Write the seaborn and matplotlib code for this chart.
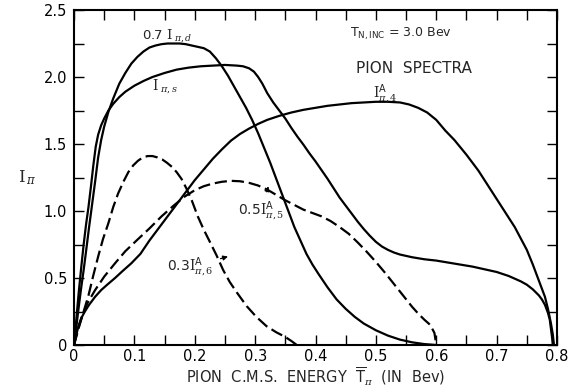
import numpy as np
import pandas as pd
import matplotlib
matplotlib.use("Agg")
import matplotlib.pyplot as plt
import seaborn as sns

# ---- data ----
# 0.7 I_pi,d
d_x = [0, 0.004, 0.008, 0.012, 0.016, 0.02, 0.025, 0.03, 0.035, 0.04, 0.045, 0.05, 0.057, 0.065, 0.075,
       0.085, 0.095, 0.105, 0.115, 0.125, 0.135, 0.145, 0.155, 0.165, 0.175, 0.185, 0.195, 0.205, 0.215,
       0.225, 0.235, 0.245, 0.255, 0.265, 0.275, 0.285, 0.295, 0.305, 0.315, 0.325, 0.335, 0.345, 0.355,
       0.365, 0.375, 0.385, 0.395, 0.405, 0.42, 0.435, 0.45, 0.465, 0.48, 0.5, 0.52, 0.54, 0.56, 0.58, 0.6]
d_y = [0, 0.14, 0.29, 0.43, 0.56, 0.70, 0.88, 1.05, 1.22, 1.40, 1.53, 1.63, 1.74, 1.84, 1.95,
       2.03, 2.10, 2.15, 2.19, 2.22, 2.235, 2.245, 2.25, 2.25, 2.25, 2.245, 2.235, 2.225, 2.215,
       2.19, 2.14, 2.08, 2.01, 1.93, 1.85, 1.77, 1.68, 1.58, 1.47, 1.36, 1.24, 1.12, 1.0,
       0.88, 0.78, 0.68, 0.60, 0.53, 0.43, 0.34, 0.27, 0.21, 0.16, 0.11, 0.07, 0.04, 0.02, 0.007, 0]

# I_pi,s
s_x = [0, 0.004, 0.008, 0.012, 0.016, 0.02, 0.024, 0.028, 0.032, 0.036, 0.04, 0.045, 0.05, 0.057, 0.065,
       0.075, 0.085, 0.1, 0.115, 0.13, 0.15, 0.17, 0.19, 0.21, 0.23, 0.25, 0.27, 0.28, 0.29, 0.298, 0.305,
       0.312, 0.32, 0.33, 0.34, 0.35, 0.36, 0.37, 0.38, 0.39, 0.40, 0.41, 0.42, 0.43, 0.44, 0.45, 0.46,
       0.47, 0.48, 0.49, 0.50, 0.51, 0.52, 0.53, 0.54, 0.55, 0.56, 0.58, 0.60, 0.62, 0.64, 0.66, 0.68,
       0.70, 0.72, 0.74, 0.75, 0.76, 0.77, 0.775, 0.78, 0.785, 0.788, 0.79, 0.792, 0.793]
s_y = [0, 0.2, 0.4, 0.58, 0.75, 0.9, 1.03, 1.18, 1.34, 1.48, 1.57, 1.64, 1.69, 1.75, 1.80,
       1.85, 1.89, 1.935, 1.97, 2.0, 2.03, 2.055, 2.07, 2.08, 2.085, 2.09, 2.085, 2.08, 2.065, 2.04, 2.0,
       1.95, 1.88, 1.81, 1.75, 1.69, 1.62, 1.555, 1.495, 1.43, 1.37, 1.305, 1.24, 1.17, 1.10, 1.04, 0.98,
       0.92, 0.865, 0.815, 0.77, 0.735, 0.71, 0.69, 0.675, 0.665, 0.655, 0.64, 0.63, 0.615, 0.60, 0.585, 0.565,
       0.545, 0.515, 0.475, 0.45, 0.415, 0.37, 0.34, 0.30, 0.24, 0.19, 0.12, 0.05, 0]

# I^A_pi,4
a4_x = [0, 0.004, 0.008, 0.012, 0.018, 0.025, 0.035, 0.045, 0.055, 0.068, 0.08, 0.095, 0.11, 0.125, 0.14,
        0.155, 0.17, 0.185, 0.2, 0.215, 0.23, 0.245, 0.26, 0.275, 0.29, 0.305, 0.32, 0.34, 0.36, 0.38,
        0.40, 0.42, 0.44, 0.46, 0.48, 0.50, 0.52, 0.54, 0.555, 0.57, 0.585, 0.6, 0.615, 0.63, 0.65, 0.67,
        0.69, 0.71, 0.73, 0.75, 0.76, 0.77, 0.78, 0.785, 0.79, 0.793, 0.795]
a4_y = [0, 0.08, 0.15, 0.2, 0.25, 0.3, 0.36, 0.41, 0.45, 0.5, 0.55, 0.61, 0.68, 0.78, 0.87,
        0.96, 1.05, 1.14, 1.23, 1.31, 1.39, 1.46, 1.525, 1.575, 1.615, 1.65, 1.68, 1.71, 1.735, 1.755,
        1.77, 1.785, 1.795, 1.805, 1.81, 1.815, 1.815, 1.81, 1.795, 1.77, 1.735, 1.68, 1.60, 1.53, 1.42, 1.30,
        1.16, 1.02, 0.88, 0.71, 0.60, 0.48, 0.36, 0.27, 0.16, 0.08, 0]

# 0.5 I^A_pi,5 (dashed)
a5_x = [0, 0.006, 0.013, 0.022, 0.035, 0.05, 0.068, 0.085, 0.106, 0.125, 0.145, 0.165, 0.184, 0.2, 0.215,
        0.23, 0.245, 0.26, 0.275, 0.29, 0.305, 0.32, 0.335, 0.35, 0.365, 0.38, 0.395, 0.41, 0.425, 0.44,
        0.455, 0.47, 0.485, 0.5, 0.515, 0.53, 0.545, 0.56, 0.57, 0.58, 0.59, 0.597, 0.6]
a5_y = [0, 0.11, 0.21, 0.31, 0.41, 0.51, 0.61, 0.70, 0.79, 0.87, 0.96, 1.04, 1.11, 1.155, 1.185,
        1.205, 1.218, 1.225, 1.222, 1.21, 1.19, 1.16, 1.12, 1.08, 1.045, 1.01, 0.985, 0.96, 0.925, 0.88,
        0.83, 0.765, 0.695, 0.62, 0.54, 0.455, 0.37, 0.285, 0.235, 0.19, 0.15, 0.09, 0]

# 0.3 I^A_pi,6 (dashed)
a6_x = [0, 0.008, 0.016, 0.024, 0.032, 0.04, 0.048, 0.057, 0.065, 0.073, 0.082, 0.09, 0.098, 0.106, 0.114,
        0.122, 0.13, 0.138, 0.146, 0.154, 0.162, 0.17, 0.178, 0.186, 0.195, 0.205, 0.215, 0.225, 0.236,
        0.247, 0.258, 0.27, 0.286, 0.302, 0.319, 0.335, 0.35, 0.36, 0.369]
a6_y = [0, 0.13, 0.25, 0.37, 0.52, 0.66, 0.79, 0.91, 1.03, 1.13, 1.22, 1.29, 1.34, 1.375, 1.4,
        1.41, 1.41, 1.40, 1.385, 1.36, 1.33, 1.29, 1.24, 1.17, 1.08, 0.96, 0.86, 0.77, 0.67,
        0.56, 0.47, 0.39, 0.29, 0.21, 0.14, 0.095, 0.06, 0.03, 0]

x_ticklabels = ["0", "0.1", "0.2", "0.3", "0.4", "0.5", "0.6", "0.7", "0.8"]
y_ticklabels = ["0", "0.5", "1.0", "1.5", "2.0", "2.5"]

# ---- figure ----
sns.set_style("white")
plt.rcParams["font.family"] = ["DejaVu Sans"]
plt.rcParams["mathtext.fontset"] = "custom"
plt.rcParams["mathtext.rm"] = "DejaVu Serif"
plt.rcParams["mathtext.it"] = "DejaVu Serif:italic"
plt.rcParams["mathtext.sf"] = "DejaVu Sans"
plt.rcParams["mathtext.bf"] = "DejaVu Serif:bold"

fig = plt.figure(figsize=(5.72, 3.92), dpi=100)
ax = fig.add_axes([74/572, 1 - 345/392, (557-74)/572, (345-10)/392])

lw = 1.6
for xs, ys in [(d_x, d_y), (s_x, s_y), (a4_x, a4_y)]:
    sns.lineplot(x=xs, y=ys, ax=ax, color="black", lw=lw, sort=False, estimator=None)
for xs, ys in [(a5_x, a5_y), (a6_x, a6_y)]:
    sns.lineplot(x=xs, y=ys, ax=ax, color="black", lw=lw, sort=False, estimator=None,
                 linestyle=(0, (5.5, 2.2)))

ax.set_xlim(0, 0.8)
ax.set_ylim(0, 2.5)
ax.set_xticks(np.arange(0, 0.81, 0.1))
ax.set_xticklabels(x_ticklabels)
ax.set_xticks(np.arange(0.05, 0.8, 0.1), minor=True)
ax.set_yticks(np.arange(0, 2.51, 0.5))
ax.set_yticklabels(y_ticklabels)
ax.set_yticks(np.arange(0.25, 2.5, 0.5), minor=True)
ax.tick_params(which="both", direction="in", length=7, width=1.0,
               top=True, right=True, bottom=True, left=True, labelsize=10.5, colors="black")
ax.tick_params(axis="x", pad=3)
ax.tick_params(axis="y", pad=5)
for sp in ax.spines.values():
    sp.set_linewidth(1.5)
    sp.set_color("black")

ax.set_xlabel(r"PION  C.M.S.  ENERGY  $\overline{\mathsf{T}}_{\pi}$  (IN  Bev)", fontsize=10.5, labelpad=1)
ax.set_ylabel("")
fig.text(27/572, 1 - 178/392, r"$\mathrm{I}_{\,\pi}$", fontsize=12, ha="center", va="center")

ax.text(0.113, 2.31, r"0.7 $\mathrm{I}_{\;\pi,d}$", fontsize=9.5, ha="left", va="center")
ax.text(0.130, 1.93, r"$\mathrm{I}_{\;\pi,s}$", fontsize=10, ha="left", va="center")
ax.text(0.457, 2.32, r"$\mathsf{T}_{\mathsf{N,INC}}$ = 3.0 Bev", fontsize=9, ha="left", va="center")
ax.text(0.563, 2.06, "PION  SPECTRA", fontsize=11, ha="center", va="center")
ax.text(0.515, 1.87, r"$\mathrm{I}^{\mathsf{A}}_{\pi,4}$", fontsize=10, ha="center", va="center")
ax.annotate(r"0.5$\mathrm{I}^{\mathsf{A}}_{\pi,5}$", xy=(0.322, 1.185), xytext=(0.31, 1.0),
            fontsize=10, ha="center", va="center",
            arrowprops=dict(arrowstyle="-|>", color="black", lw=0.9, shrinkA=3, shrinkB=0, mutation_scale=7))
ax.annotate(r"0.3$\mathrm{I}^{\mathsf{A}}_{\pi,6}$", xy=(0.255, 0.66), xytext=(0.192, 0.58),
            fontsize=10, ha="center", va="center",
            arrowprops=dict(arrowstyle="-|>", color="black", lw=0.9, shrinkA=3, shrinkB=0, mutation_scale=7))

fig.savefig("out.png", dpi=100, facecolor="white")
